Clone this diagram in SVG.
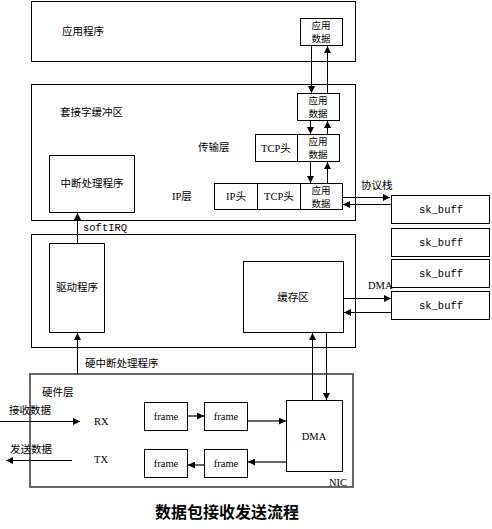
<svg xmlns="http://www.w3.org/2000/svg" width="492" height="529" viewBox="0 0 492 529">
<defs>
<marker id="ah" viewBox="0 0 10 10" refX="10" refY="5" markerWidth="7" markerHeight="7" markerUnits="userSpaceOnUse" orient="auto"><path d="M0,0 L10,5 L0,10 z" fill="#000"/></marker>
<marker id="ahg" viewBox="0 0 10 10" refX="10" refY="5" markerWidth="7" markerHeight="7" markerUnits="userSpaceOnUse" orient="auto"><path d="M0,0 L10,5 L0,10 z" fill="#000"/></marker>
<style>
.b{fill:#fff;stroke:#000;stroke-width:1}
.g{fill:#fff;stroke:#666;stroke-width:2}
.t{font-family:"Noto Sans CJK SC","Liberation Sans",sans-serif;font-size:10.5px;fill:#000}
.d{font-family:"Noto Sans CJK SC","Liberation Sans",sans-serif;font-size:9.5px;fill:#000;text-anchor:middle}
.s{font-family:"Liberation Serif","Noto Sans CJK SC",serif;font-size:10.5px;fill:#000}
.m{font-family:"Liberation Mono","Noto Sans CJK SC",monospace;font-size:10.5px;fill:#000}
.c{text-anchor:middle}
.l{stroke:#000;stroke-width:1;fill:none}
.lg{stroke:#666;stroke-width:2;fill:none}
</style>
</defs>
<rect width="492" height="529" fill="#fff"/>
<g id="app"><rect class="b" x="31.5" y="1.5" width="324" height="60"/><text class="t" x="62" y="35">应用程序</text></g>
<g id="socket"><rect class="b" x="31.5" y="84.5" width="324" height="136"/><text class="t" x="60" y="116">套接字缓冲区</text><text class="t" x="198" y="151">传输层</text><text class="s" x="172" y="200">IP层</text></g>
<g id="driverlayer"><rect class="b" x="31.5" y="234.5" width="324" height="113"/></g>
<g id="hw"><rect class="g" x="30" y="374" width="323" height="113"/><text class="t" x="42" y="396">硬件层</text><text class="s" x="329" y="486">NIC</text></g>
<g id="appdata1"><rect class="b" x="300.5" y="18.5" width="42" height="27"/><text class="d" x="321" y="29">应用</text><text class="d" x="321" y="42">数据</text></g>
<g id="appdata2"><rect class="b" x="297.5" y="93.5" width="42" height="27"/><text class="d" x="318" y="104">应用</text><text class="d" x="318" y="117">数据</text></g>
<g id="tcprow"><rect class="b" x="255.5" y="134.5" width="42" height="27"/><text class="s c" x="276" y="152">TCP头</text><rect class="b" x="297.5" y="134.5" width="42" height="27"/><text class="d" x="318" y="145">应用</text><text class="d" x="318" y="158">数据</text></g>
<g id="iprow"><rect class="b" x="214.5" y="183.5" width="43" height="26"/><text class="s c" x="236" y="200">IP头</text><rect class="b" x="257.5" y="183.5" width="43" height="26"/><text class="s c" x="279" y="200">TCP头</text><rect class="b" x="300.5" y="183.5" width="42" height="26"/><text class="d" x="321" y="194">应用</text><text class="d" x="321" y="207">数据</text></g>
<g id="irq"><rect class="b" x="49.5" y="155.5" width="85" height="57"/><text class="t c" x="92" y="187">中断处理程序</text></g>
<g id="driver"><rect class="b" x="49.5" y="243.5" width="55" height="89"/><text class="t c" x="77" y="291">驱动程序</text></g>
<g id="cache"><rect class="b" x="243.5" y="261.5" width="100" height="71"/><text class="t c" x="293" y="301">缓存区</text></g>
<g id="skb1"><rect class="b" x="391.5" y="195.5" width="98" height="28"/><text class="m c" x="441" y="213">sk_buff</text></g>
<g id="skb2"><rect class="b" x="391.5" y="228.5" width="98" height="28"/><text class="m c" x="441" y="246">sk_buff</text></g>
<g id="skb3"><rect class="b" x="391.5" y="259.5" width="98" height="28"/><text class="m c" x="441" y="277">sk_buff</text></g>
<g id="skb4"><rect class="b" x="391.5" y="291.5" width="98" height="28"/><text class="m c" x="441" y="309">sk_buff</text></g>
<g id="frame1"><rect class="b" x="144.5" y="402.5" width="43" height="28"/><text class="s c" x="166" y="420">frame</text></g>
<g id="frame2"><rect class="b" x="204.5" y="402.5" width="43" height="28"/><text class="s c" x="226" y="420">frame</text></g>
<g id="frame3"><rect class="b" x="144.5" y="449.5" width="43" height="28"/><text class="s c" x="166" y="467">frame</text></g>
<g id="frame4"><rect class="b" x="204.5" y="449.5" width="43" height="28"/><text class="s c" x="226" y="467">frame</text></g>
<g id="dma"><rect class="b" x="286.5" y="400.5" width="56" height="71"/><text class="s c" x="314" y="440" font-size="9.5">DMA</text></g>
<g id="connectors">
<line class="l" x1="311.5" y1="46" x2="311.5" y2="93" marker-end="url(#ah)"/>
<line class="l" x1="327.5" y1="93" x2="327.5" y2="46" marker-end="url(#ah)"/>
<line class="l" x1="310.5" y1="121" x2="310.5" y2="134" marker-end="url(#ah)"/>
<line class="l" x1="327.5" y1="134" x2="327.5" y2="121" marker-end="url(#ah)"/>
<line class="l" x1="310.5" y1="162" x2="310.5" y2="183" marker-end="url(#ah)"/>
<line class="l" x1="327.5" y1="183" x2="327.5" y2="162" marker-end="url(#ah)"/>
<line class="l" x1="343" y1="197.5" x2="390" y2="197.5" marker-end="url(#ah)"/>
<line class="l" x1="391" y1="204.5" x2="343" y2="204.5" marker-end="url(#ah)"/>
<text class="t" x="361" y="189">协议栈</text>
<line class="l" x1="77.5" y1="243" x2="77.5" y2="213" marker-end="url(#ah)"/>
<text class="m" x="83" y="231">softIRQ</text>
<line class="l" x1="77.5" y1="374" x2="77.5" y2="333" marker-end="url(#ah)"/>
<text class="t" x="85" y="367">硬中断处理程序</text>
<line class="l" x1="344" y1="298.5" x2="391" y2="298.5" marker-end="url(#ah)"/>
<line class="l" x1="391" y1="312.5" x2="344" y2="312.5" marker-end="url(#ah)"/>
<text class="s" x="368" y="289" font-size="9.5">DMA</text>
<line class="l" x1="312.5" y1="400" x2="312.5" y2="333" marker-end="url(#ah)"/>
<line class="l" x1="326.5" y1="333" x2="326.5" y2="400" marker-end="url(#ah)"/>
<line class="l" x1="0" y1="421.5" x2="80" y2="421.5" marker-end="url(#ah)"/>
<text class="t" x="9" y="414">接收数据</text>
<text class="s" x="94" y="425">RX</text>
<line class="l" x1="72" y1="460.5" x2="6" y2="460.5" marker-end="url(#ah)"/>
<text class="t" x="10" y="453">发送数据</text>
<text class="s" x="94" y="463">TX</text>
<line class="lg" x1="188" y1="416" x2="204" y2="416" marker-end="url(#ahg)"/>
<line class="lg" x1="204" y1="465" x2="188" y2="465" marker-end="url(#ahg)"/>
<line class="lg" x1="248" y1="421" x2="286" y2="421" marker-end="url(#ahg)"/>
<line class="lg" x1="286" y1="462" x2="248" y2="462" marker-end="url(#ahg)"/>
</g>
<text x="227" y="518" text-anchor="middle" font-family="'Noto Sans CJK SC',sans-serif" font-size="16" font-weight="bold" fill="#000">数据包接收发送流程</text>
</svg>
